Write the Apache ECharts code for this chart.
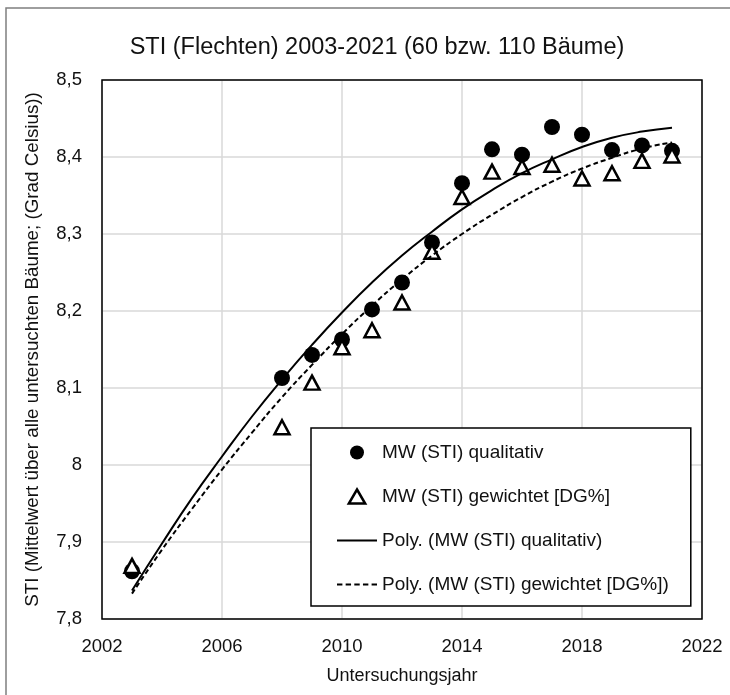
<!DOCTYPE html>
<html>
<head>
<meta charset="utf-8">
<script src="https://cdn.jsdelivr.net/npm/echarts@6/dist/echarts.min.js"></script>
<style>
  html, body { margin: 0; padding: 0; background: #fff; }
  #main { width: 730px; height: 695px; }
</style>
</head>
<body>
<div id="main"></div>
<script>
const years = [2003, 2008, 2009, 2010, 2011, 2012, 2013, 2014, 2015, 2016, 2017, 2018, 2019, 2020, 2021];
const stiQual = [7.862, 8.113, 8.143, 8.163, 8.202, 8.237, 8.289, 8.366, 8.410, 8.403, 8.439, 8.429, 8.409, 8.415, 8.408];
const stiGew = [7.869, 8.049, 8.107, 8.153, 8.175, 8.211, 8.277, 8.348, 8.381, 8.387, 8.390, 8.372, 8.379, 8.395, 8.402];

const trendYears = [2003, 2004, 2005, 2006, 2007, 2008, 2009, 2010, 2011, 2012, 2013, 2014, 2015, 2016, 2017, 2018, 2019, 2020, 2021];
const polyQual = [7.837, 7.898, 7.957, 8.011, 8.063, 8.111, 8.156, 8.198, 8.237, 8.272, 8.303, 8.332, 8.357, 8.379, 8.397, 8.413, 8.425, 8.433, 8.438];
const polyGew = [7.833, 7.890, 7.943, 7.994, 8.042, 8.088, 8.130, 8.170, 8.207, 8.241, 8.272, 8.300, 8.325, 8.348, 8.368, 8.385, 8.399, 8.411, 8.419];

const xTicks = [2002, 2006, 2010, 2014, 2018, 2022];
const yTicks = [7.8, 7.9, 8.0, 8.1, 8.2, 8.3, 8.4, 8.5];

const names = ['MW (STI) qualitativ', 'MW (STI) gewichtet [DG%]',
  'Poly. (MW (STI) qualitativ)', 'Poly. (MW (STI) gewichtet [DG%])'];

const FONT = '"Liberation Sans", Arial, sans-serif';
const TXT = '#111';
const zip = (xs, ys) => xs.map((x, i) => [x, ys[i]]);

// Legenden-Icons
const iconSolid = 'path://M0,0h40v2h-40z';
const iconDash = 'path://M0,0h5v2h-5z M8,0h5v2h-5z M16,0h5v2h-5z M24,0h5v2h-5z M32,0h5v2h-5z';
const iconTri = 'path://M7,0L14,12L0,12Z';

const G = { left: 102, right: 28, top: 80, bottom: 76 };

const chart = echarts.init(document.getElementById('main'));
chart.setOption({
  animation: false,
  textStyle: { fontFamily: FONT, color: TXT },
  graphic: [
    {
      type: 'rect', silent: true, z: 0,
      shape: { x: 6, y: 8, width: 800, height: 800 },
      style: { fill: 'none', stroke: '#7f7f7f', lineWidth: 1.5 }
    },
    {
      type: 'rect', silent: true, z: 2,
      shape: { x: G.left, y: G.top, width: 730 - G.left - G.right, height: 695 - G.top - G.bottom },
      style: { fill: 'none', stroke: '#000', lineWidth: 1.5 }
    }
  ],
  title: {
    text: 'STI (Flechten) 2003-2021 (60 bzw. 110 Bäume)',
    left: 372, top: 31, textAlign: 'center',
    textStyle: { fontFamily: FONT, fontSize: 23.5, fontWeight: 'normal', color: TXT }
  },
  grid: { left: G.left, right: G.right, top: G.top, bottom: G.bottom },
  legend: {
    orient: 'vertical', left: 311, top: 428, z: 10,
    padding: [15, 22, 12, 26], itemGap: 25,
    itemWidth: 40, itemHeight: 14,
    backgroundColor: '#fff', borderColor: '#000', borderWidth: 1.5,
    textStyle: { fontFamily: FONT, fontSize: 19, color: TXT },
    data: [
      { name: names[0], icon: 'circle', itemStyle: { color: '#000', opacity: 1 } },
      { name: names[1], icon: iconTri, itemStyle: { color: '#fff', borderColor: '#000', borderWidth: 2.5 } },
      { name: names[2], icon: iconSolid, itemStyle: { color: '#000', borderWidth: 0 } },
      { name: names[3], icon: iconDash, itemStyle: { color: '#000', borderWidth: 0 } }
    ]
  },
  xAxis: {
    type: 'value', min: 2002, max: 2022, interval: 4,
    name: 'Untersuchungsjahr', nameLocation: 'middle', nameGap: 48,
    nameTextStyle: { fontFamily: FONT, fontSize: 18, color: TXT },
    axisLine: { show: false }, axisTick: { show: false },
    axisLabel: {
      margin: 18, fontSize: 18.5, color: TXT,
      formatter: v => xTicks.includes(v) ? String(v) : ''
    },
    splitLine: { show: true, lineStyle: { color: '#d9d9d9', width: 1.5 } }
  },
  yAxis: {
    type: 'value', min: 7.8, max: 8.5, interval: 0.1,
    name: 'STI (Mittelwert über alle untersuchten Bäume; (Grad Celsius))',
    nameLocation: 'middle', nameGap: 60,
    nameTextStyle: { fontFamily: FONT, fontSize: 18.8, color: TXT },
    axisLine: { show: false }, axisTick: { show: false },
    axisLabel: {
      margin: 20, fontSize: 18.5, color: TXT,
      formatter: v => {
        const t = yTicks.find(k => Math.abs(k - v) < 1e-6);
        return t === undefined ? '' : String(+t.toFixed(1)).replace('.', ',');
      }
    },
    splitLine: { show: true, lineStyle: { color: '#d9d9d9', width: 1.5 } }
  },
  series: [
    {
      name: names[0], type: 'scatter', z: 3,
      symbol: 'circle', symbolSize: 16,
      itemStyle: { color: '#000', opacity: 1 },
      data: zip(years, stiQual)
    },
    {
      name: names[1], type: 'scatter', z: 4,
      symbol: 'triangle', symbolSize: [15, 14],
      itemStyle: { color: '#fff', borderColor: '#000', borderWidth: 2.5, opacity: 1 },
      data: zip(years, stiGew)
    },
    {
      name: names[2], type: 'line', z: 5, smooth: true,
      symbol: 'none',
      lineStyle: { color: '#000', width: 2, type: 'solid' },
      itemStyle: { color: '#000' },
      data: zip(trendYears, polyQual)
    },
    {
      name: names[3], type: 'line', z: 5, smooth: true,
      symbol: 'none',
      lineStyle: { color: '#000', width: 2, type: [5, 3] },
      itemStyle: { color: '#000' },
      data: zip(trendYears, polyGew)
    }
  ]
});
</script>
</body>
</html>
